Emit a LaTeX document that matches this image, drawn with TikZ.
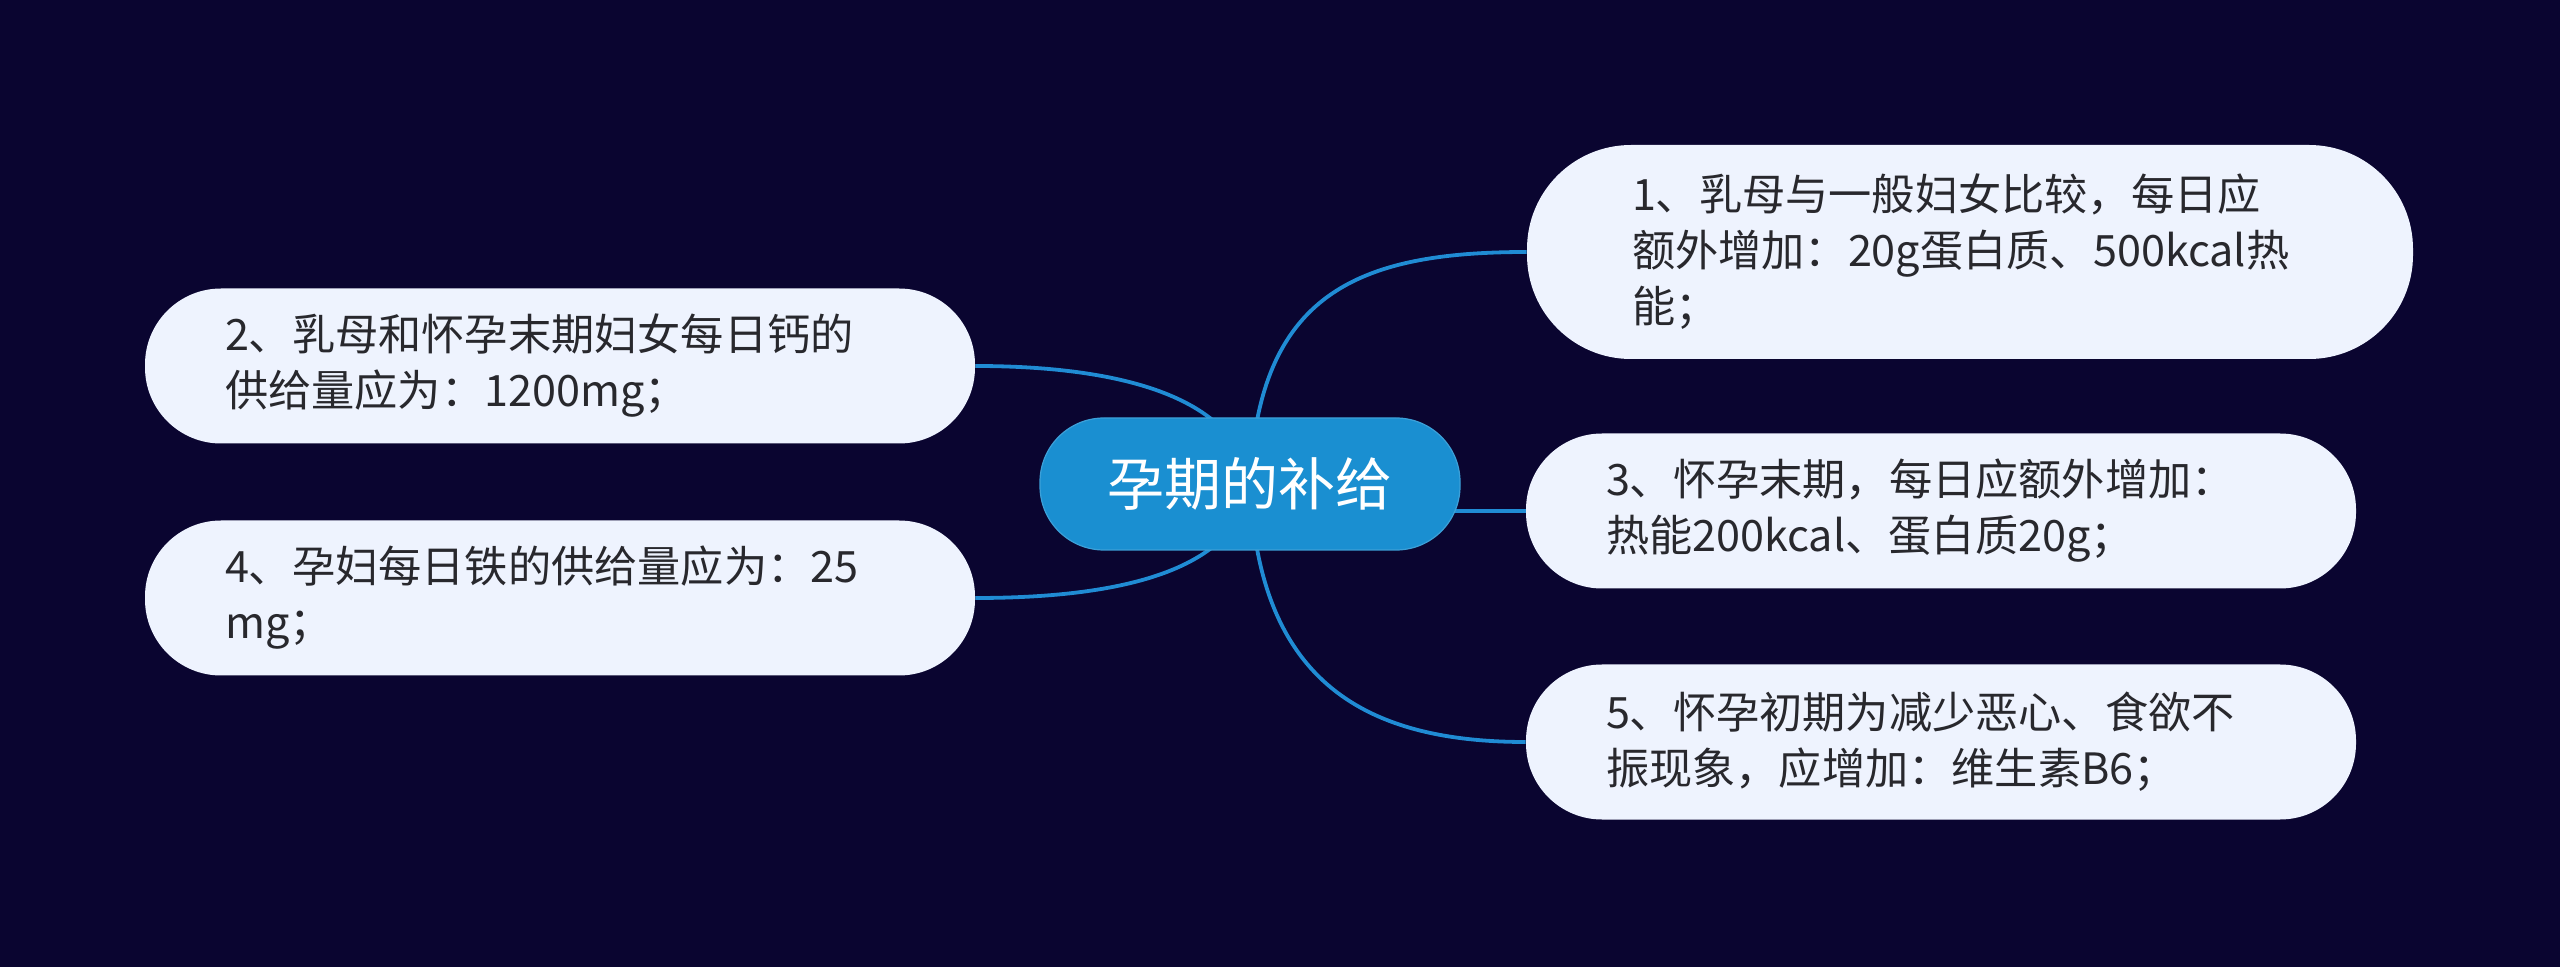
\documentclass[tikz,border=0pt]{standalone}
\usepackage{fontspec}
\newfontfamily\cjk{Noto Sans CJK SC}
\usetikzlibrary{
  backgrounds
}
\definecolor{xnight}{RGB}{10,5,48}
\definecolor{xsky}{RGB}{26,143,209}
\definecolor{xwire}{RGB}{32,140,212}
\definecolor{xpale}{RGB}{238,243,254}
\definecolor{xink}{RGB}{40,40,45}

\begin{document}
\begin{tikzpicture}[x=0.5pt, y=-0.5pt,
  topic/.style={fill=xsky, draw=xsky!85!white, rounded corners=32pt,
                minimum width=210pt, minimum height=66pt, inner sep=0pt,
                font=\cjk\fontsize{28.5}{34}\selectfont, text=white, line width=0.6pt},
  leaf/.style={fill=xpale, rounded corners=38pt,
               minimum width=415pt, minimum height=77.5pt, inner xsep=0pt,
               text width=335pt, align=left,
               font=\cjk\fontsize{21.6}{28}\selectfont, text=xink},
  wire/.style={draw=xwire, line width=1.9pt}
]
  \node[topic] (care)  at (1250, 484) {孕期的补给};
  \node[leaf, minimum width=443pt, minimum height=107pt, rounded corners=52pt,
        text width=338pt] (lact) at (1970, 252) {
    1、乳母与一般妇女比较，每日应\\
    额外增加：20g蛋白质、500kcal热\\
    能；
  };
  \node[leaf] (calc)  at (560, 366)  {
    2、乳母和怀孕末期妇女每日钙的\\
    供给量应为：1200mg；
  };
  \node[leaf] (late)  at (1941, 511) {
    3、怀孕末期，每日应额外增加：\\
    热能200kcal、蛋白质20g；
  };
  \node[leaf] (iron)  at (560, 598)  {
    4、孕妇每日铁的供给量应为：25\\
    mg；
  };
  \node[leaf] (early) at (1941, 742) {
    5、怀孕初期为减少恶心、食欲不\\
    振现象，应增加：维生素B6；
  };

  \begin{scope}[on background layer]
    \fill[xnight] (0, 0) rectangle (2560, 967);
    \foreach \n/\s in {lact/-1, early/1}
      \draw[wire] (care.center) .. controls +(8, 190*\s) and +(-170, 0) .. (\n.west);
    \foreach \n/\s in {calc/-1, iron/1}
      \draw[wire] (care.center) .. controls +(-12, 85*\s) and +(150, 0) .. (\n.east);
    \draw[wire] (care.center |- late.west) -- (late.west);
  \end{scope}
\end{tikzpicture}
\end{document}
